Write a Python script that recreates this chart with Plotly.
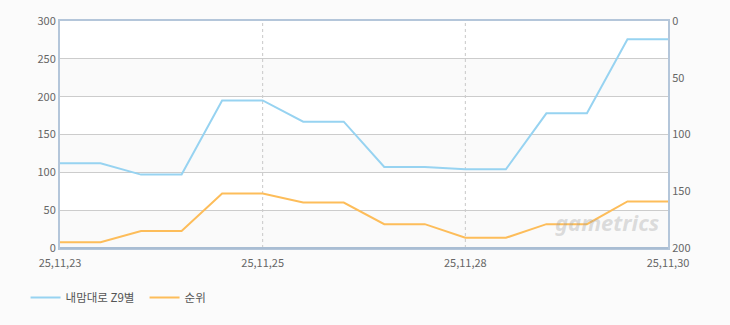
import plotly.graph_objects as go

x_idx = list(range(16))
tick_pos = [0, 5, 10, 15]
tick_labels = ["25,11,23", "25,11,25", "25,11,28", "25,11,30"]
users = [112, 112, 97, 97, 195, 195, 167, 167, 107, 107, 104, 104, 178, 178, 276, 276]
rank = [195, 195, 185, 185, 152, 152, 160, 160, 179, 179, 191, 191, 179, 179, 159, 159]
name_users = "내맘대로 Z9별"
name_rank = "순위"

fig = go.Figure()
fig.add_trace(go.Scatter(x=x_idx, y=users, name=name_users, mode="lines",
                         line=dict(color="#97d3f1", width=2), yaxis="y"))
fig.add_trace(go.Scatter(x=x_idx, y=rank, name=name_rank, mode="lines",
                         line=dict(color="#fdbd5a", width=2), yaxis="y2"))

shapes = []
for lo in [0, 100, 200]:
    shapes.append(dict(type="rect", xref="paper", yref="y", x0=0, x1=1, y0=lo, y1=lo + 50,
                       fillcolor="#fafafa", line=dict(width=0), layer="below"))
for t in [5, 10]:
    shapes.append(dict(type="line", xref="x", yref="paper", x0=t, x1=t, y0=0, y1=1,
                       line=dict(color="#c8c8c8", width=1, dash="3px,3px"), layer="below"))
shapes.append(dict(type="line", xref="paper", yref="paper", x0=0, x1=1, y0=0, y1=0,
                   line=dict(color="#a9bdd3", width=2)))

fig.update_layout(
    width=730, height=325,
    margin=dict(l=60, r=62, t=17, b=77),
    paper_bgcolor="#fbfbfb", plot_bgcolor="#ffffff",
    font=dict(family="Noto Sans CJK KR, sans-serif", size=11, color="#666666"),
    shapes=shapes,
    xaxis=dict(range=[0, 15], tickvals=tick_pos, ticktext=tick_labels, showgrid=False,
               zeroline=False, showline=True, linecolor="#b4c6da", linewidth=2, mirror=True,
               ticks="", ticklabelstandoff=4, tickfont=dict(size=11, color="#666666")),
    yaxis=dict(range=[0, 300], dtick=50, showgrid=True, gridcolor="#cccccc", gridwidth=1,
               zeroline=False, showline=True, linecolor="#b4c6da", linewidth=2,
               ticks="", tickfont=dict(size=11, color="#666666")),
    yaxis2=dict(range=[200, 0], dtick=50, overlaying="y", side="right", showgrid=False,
                zeroline=False, showline=True, linecolor="#b4c6da", linewidth=2,
                ticks="", tickfont=dict(size=11, color="#666666")),
    legend=dict(orientation="h", x=0.035, xref="container", y=0.085, yref="container",
                xanchor="left", yanchor="middle", font=dict(size=11.5, color="#555555"),
                bgcolor="rgba(0,0,0,0)", itemwidth=30,
                entrywidth=74, entrywidthmode="pixels"),
    annotations=[dict(text="<b><i>gametrics</i></b>", xref="paper", yref="paper", x=0.99, y=0.04,
                      xanchor="right", yanchor="bottom", showarrow=False,
                      font=dict(size=22, color="rgba(160,160,160,0.35)", family="Noto Sans"))],
)
fig.write_html("out.html")
